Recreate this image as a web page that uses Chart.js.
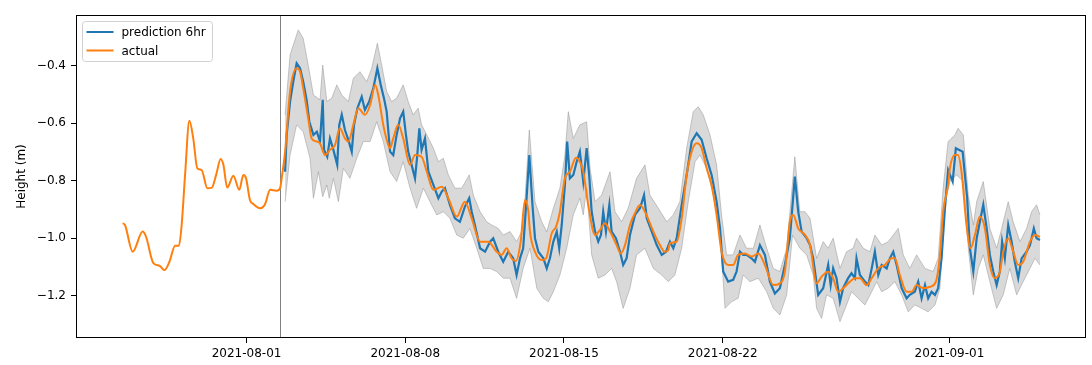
<!DOCTYPE html>
<html>
<head>
<meta charset="utf-8">
<script src="https://cdn.jsdelivr.net/npm/chart.js@4.4.0/dist/chart.umd.min.js"></script>
<style>
  body { margin: 0; background: #fff; }
  canvas { display: block; }
</style>
</head>
<body>
<canvas id="chart" width="1092" height="365"></canvas>
<script>
// x values are days since 2021-08-01 00:00
const actualDays = [
  -5.46, -5.36, -5.02, -4.58, -4.43, -4.11, -3.84, -3.62, -3.40, -3.15,
  -2.98, -2.86, -2.71, -2.52, -2.35, -2.17, -1.98, -1.73, -1.53, -1.34,
  -1.14, -1.02, -0.85, -0.58, -0.32, -0.14, -0.02, 0.15, 0.30, 0.60,
  0.82, 1.04, 1.33, 1.48, 1.55, 1.70, 1.92, 2.21, 2.36, 2.50,
  2.72, 2.87, 3.10, 3.24, 3.46, 3.68, 3.90, 4.12, 4.34, 4.49,
  4.71, 4.93, 5.22, 5.45, 5.67, 5.81, 6.03, 6.25, 6.33, 6.47,
  6.69, 6.91, 7.21, 7.43, 7.72, 7.95, 8.24, 8.61, 8.90, 9.27,
  9.63, 9.93, 10.30, 10.66, 11.03, 11.25, 11.47, 11.69, 11.88, 12.09,
  12.28, 12.43, 12.50, 12.72, 13.02, 13.21, 13.46, 13.65, 13.82, 14.04,
  14.26, 14.53, 14.70, 14.85, 15.07, 15.37, 15.59, 15.81, 16.03, 16.32,
  16.50, 16.69, 16.91, 17.13, 17.35, 17.57, 17.94, 18.23, 18.45, 18.60,
  18.67, 18.97, 19.19, 19.41, 19.63, 19.85, 20.07, 20.29, 20.51, 20.73,
  20.95, 21.24, 21.46, 21.68, 21.98, 22.28, 22.57, 22.86, 23.23, 23.52,
  23.74, 23.96, 24.11, 24.33, 24.63, 24.85, 25.14, 25.36, 25.65, 25.87,
  26.09, 26.31, 26.61, 26.83, 27.05, 27.35, 27.57, 27.86, 28.15, 28.45,
  28.59, 28.81, 29.11, 29.33, 29.55, 29.84, 30.14, 30.40, 30.58, 30.72,
  30.94, 31.02, 31.24, 31.37, 31.53, 31.75, 31.93, 32.12, 32.34, 32.56,
  32.78, 33.00, 33.22, 33.37, 33.59, 33.81, 34.03, 34.25, 34.55, 34.77, 34.99
];
const actualHeight = [
  -0.948, -0.954, -1.047, -0.977, -0.995, -1.087, -1.096, -1.111, -1.082, -1.026,
  -1.026, -0.954, -0.780, -0.592, -0.653, -0.757, -0.763, -0.826, -0.824, -0.780,
  -0.725, -0.745, -0.824, -0.783, -0.832, -0.780, -0.792, -0.867, -0.881, -0.896,
  -0.881, -0.832, -0.835, -0.826, -0.792, -0.699, -0.490, -0.409, -0.421, -0.479,
  -0.583, -0.653, -0.664, -0.670, -0.711, -0.693, -0.676, -0.618, -0.653, -0.664,
  -0.606, -0.548, -0.571, -0.537, -0.467, -0.502, -0.606, -0.676, -0.687, -0.653,
  -0.606, -0.653, -0.745, -0.711, -0.717, -0.769, -0.832, -0.821, -0.861, -0.925,
  -0.873, -0.931, -1.012, -1.012, -1.047, -1.058, -1.035, -1.070, -1.079, -1.012,
  -0.867, -0.908, -0.977, -1.047, -1.076, -1.070, -0.983, -0.960, -0.908, -0.792,
  -0.769, -0.720, -0.734, -0.769, -0.885, -0.989, -0.971, -0.948, -0.977, -1.024,
  -1.053, -1.024, -0.954, -0.913, -0.885, -0.908, -0.977, -1.024, -1.047, -1.041,
  -1.018, -1.012, -0.931, -0.780, -0.699, -0.670, -0.687, -0.757, -0.815, -0.919,
  -1.047, -1.093, -1.093, -1.058, -1.053, -1.064, -1.053, -1.093, -1.163, -1.157,
  -1.117, -0.943, -0.919, -0.966, -0.989, -1.024, -1.157, -1.134, -1.117, -1.139,
  -1.186, -1.174, -1.151, -1.139, -1.139, -1.163, -1.139, -1.105, -1.093, -1.070,
  -1.070, -1.128, -1.186, -1.186, -1.163, -1.174, -1.169, -1.151, -1.058, -0.908,
  -0.815, -0.756, -0.711, -0.711, -0.769, -0.954, -1.035, -0.989, -0.925, -0.966,
  -1.093, -1.139, -1.117, -1.047, -1.000, -1.047, -1.093, -1.082, -1.012, -0.989, -0.995
];

const predDays = [
  1.70, 1.77, 1.92, 2.06, 2.21, 2.36, 2.50, 2.65, 2.77, 2.95,
  3.10, 3.24, 3.36, 3.42, 3.56, 3.68, 3.83, 4.00, 4.09, 4.20,
  4.34, 4.49, 4.64, 4.74, 4.89, 5.08, 5.22, 5.41, 5.59, 5.77,
  5.92, 6.06, 6.18, 6.33, 6.47, 6.62, 6.77, 6.91, 7.03, 7.13,
  7.28, 7.43, 7.53, 7.62, 7.72, 7.87, 8.02, 8.24, 8.46, 8.61,
  8.75, 8.97, 9.19, 9.41, 9.63, 9.82, 9.93, 10.07, 10.30, 10.52,
  10.74, 10.88, 11.10, 11.32, 11.54, 11.76, 11.91, 12.06, 12.20, 12.35,
  12.47, 12.62, 12.72, 12.87, 13.09, 13.24, 13.38, 13.53, 13.68, 13.79,
  13.90, 14.04, 14.14, 14.26, 14.41, 14.56, 14.70, 14.85, 15.00, 15.11,
  15.22, 15.37, 15.51, 15.63, 15.73, 15.85, 16.00, 16.10, 16.29, 16.47,
  16.61, 16.76, 16.91, 17.13, 17.35, 17.53, 17.65, 17.87, 18.09, 18.31,
  18.50, 18.67, 18.82, 18.97, 19.19, 19.41, 19.63, 19.85, 20.07, 20.29,
  20.51, 20.73, 20.88, 21.02, 21.24, 21.46, 21.61, 21.76, 21.90, 22.05,
  22.27, 22.42, 22.64, 22.86, 23.08, 23.30, 23.52, 23.74, 23.96, 24.18,
  24.33, 24.48, 24.70, 24.85, 24.99, 25.21, 25.43, 25.65, 25.76, 25.87,
  26.02, 26.17, 26.31, 26.53, 26.68, 26.83, 26.90, 27.05, 27.27, 27.42,
  27.57, 27.71, 27.86, 28.01, 28.23, 28.37, 28.52, 28.67, 28.89, 29.11,
  29.25, 29.47, 29.62, 29.77, 29.92, 30.06, 30.21, 30.36, 30.50, 30.65,
  30.80, 30.94, 31.14, 31.28, 31.43, 31.58, 31.68, 31.78, 31.90, 32.05,
  32.20, 32.34, 32.49, 32.64, 32.78, 32.93, 33.08, 33.22, 33.32, 33.44,
  33.59, 33.74, 33.88, 34.03, 34.18, 34.40, 34.55, 34.72, 34.84, 34.99
];
const predHeight = [
  -0.769, -0.641, -0.525, -0.456, -0.392, -0.409, -0.456, -0.519, -0.595, -0.641,
  -0.630, -0.664, -0.519, -0.693, -0.717, -0.653, -0.693, -0.745, -0.606, -0.571,
  -0.624, -0.658, -0.699, -0.606, -0.548, -0.508, -0.554, -0.525, -0.479, -0.409,
  -0.467, -0.513, -0.560, -0.699, -0.711, -0.641, -0.583, -0.560, -0.641, -0.699,
  -0.745, -0.792, -0.711, -0.618, -0.693, -0.653, -0.769, -0.815, -0.861, -0.838,
  -0.826, -0.884, -0.931, -0.943, -0.890, -0.861, -0.908, -0.954, -1.035, -1.047,
  -1.012, -1.000, -1.047, -1.082, -1.047, -1.070, -1.128, -1.070, -1.035, -0.861,
  -0.711, -0.896, -1.000, -1.047, -1.070, -1.105, -1.070, -1.012, -0.977, -1.035,
  -0.954, -0.815, -0.664, -0.792, -0.780, -0.734, -0.699, -0.803, -0.687, -0.780,
  -0.908, -0.977, -1.012, -0.989, -0.908, -0.977, -0.884, -0.977, -1.000, -1.047,
  -1.093, -1.070, -0.989, -0.919, -0.896, -0.850, -0.931, -0.977, -1.024, -1.058,
  -1.047, -1.012, -1.035, -1.000, -0.884, -0.780, -0.664, -0.635, -0.658, -0.722,
  -0.780, -0.873, -0.966, -1.116, -1.151, -1.145, -1.116, -1.047, -1.058, -1.058,
  -1.070, -1.082, -1.024, -1.058, -1.151, -1.192, -1.174, -1.093, -1.000, -0.786,
  -0.908, -0.977, -1.000, -1.024, -1.070, -1.197, -1.174, -1.093, -1.163, -1.105,
  -1.139, -1.221, -1.174, -1.139, -1.122, -1.139, -1.070, -1.128, -1.151, -1.163,
  -1.105, -1.047, -1.128, -1.093, -1.105, -1.070, -1.047, -1.093, -1.174, -1.209,
  -1.197, -1.186, -1.151, -1.209, -1.163, -1.209, -1.186, -1.197, -1.174, -1.070,
  -0.896, -0.763, -0.803, -0.687, -0.693, -0.699, -0.780, -0.861, -1.035, -1.116,
  -1.000, -0.943, -0.884, -0.966, -1.058, -1.116, -1.163, -1.116, -1.012, -1.070,
  -0.954, -1.012, -1.082, -1.139, -1.070, -1.047, -1.024, -0.966, -1.000, -1.006
];

// prediction interval edges
const upperDays = [
  1.70, 1.92, 2.28, 2.50, 2.72, 2.95, 3.24, 3.36, 3.54, 3.76,
  3.98, 4.20, 4.49, 4.71, 5.00, 5.30, 5.52, 5.77, 5.96, 6.18,
  6.40, 6.62, 6.91, 7.13, 7.35, 7.57, 7.72, 7.95, 8.24, 8.46,
  8.68, 8.90, 9.19, 9.49, 9.82, 10.00, 10.30, 10.59, 10.81, 11.10,
  11.32, 11.62, 11.91, 12.20, 12.47, 12.72, 13.02, 13.24, 13.53, 13.82,
  14.04, 14.19, 14.41, 14.70, 15.00, 15.15, 15.37, 15.66, 16.03, 16.25,
  16.54, 16.83, 17.20, 17.57, 17.79, 18.16, 18.53, 18.82, 19.11, 19.41,
  19.70, 19.92, 20.14, 20.44, 20.73, 20.95, 21.17, 21.46, 21.76, 22.05,
  22.35, 22.64, 22.94, 23.23, 23.52, 23.82, 24.18, 24.40, 24.63, 24.85,
  25.14, 25.43, 25.65, 25.87, 26.17, 26.46, 26.75, 26.90, 27.20, 27.49,
  27.71, 28.01, 28.30, 28.52, 28.74, 28.96, 29.25, 29.55, 29.92, 30.28,
  30.50, 30.72, 30.94, 31.24, 31.38, 31.61, 31.83, 32.05, 32.20, 32.49,
  32.78, 33.08, 33.30, 33.59, 33.81, 34.11, 34.40, 34.62, 34.84, 34.99
];
const upperHeight = [
  -0.572, -0.363, -0.276, -0.305, -0.398, -0.502, -0.519, -0.398, -0.525, -0.513,
  -0.467, -0.502, -0.525, -0.444, -0.421, -0.456, -0.409, -0.322, -0.398, -0.490,
  -0.525, -0.513, -0.467, -0.525, -0.571, -0.548, -0.606, -0.641, -0.687, -0.734,
  -0.722, -0.780, -0.826, -0.826, -0.780, -0.850, -0.908, -0.943, -0.954, -0.966,
  -0.989, -0.977, -1.012, -0.966, -0.624, -0.873, -0.943, -0.978, -0.896, -0.826,
  -0.711, -0.560, -0.653, -0.606, -0.595, -0.757, -0.873, -0.850, -0.769, -0.908,
  -0.943, -0.896, -0.792, -0.745, -0.850, -0.896, -0.943, -0.919, -0.873, -0.687,
  -0.560, -0.543, -0.571, -0.641, -0.745, -0.919, -1.058, -1.058, -0.989, -1.035,
  -1.035, -0.954, -1.035, -1.105, -1.116, -1.035, -0.717, -0.908, -0.908, -0.931,
  -1.070, -1.012, -1.035, -1.000, -1.105, -1.047, -1.035, -1.000, -1.035, -1.047,
  -0.989, -1.024, -1.012, -0.989, -0.966, -1.058, -1.105, -1.058, -1.105, -1.116,
  -1.070, -0.826, -0.664, -0.641, -0.618, -0.641, -0.850, -0.954, -0.873, -0.803,
  -0.966, -1.035, -0.966, -0.873, -0.943, -1.012, -0.966, -0.908, -0.884, -0.919
];
const lowerDays = [
  1.70, 1.92, 2.21, 2.50, 2.80, 2.95, 3.17, 3.36, 3.54, 3.65,
  3.83, 4.05, 4.27, 4.56, 4.86, 5.15, 5.45, 5.74, 6.03, 6.33,
  6.62, 6.91, 7.21, 7.50, 7.80, 8.09, 8.39, 8.68, 8.97, 9.27,
  9.56, 9.85, 10.15, 10.44, 10.74, 11.03, 11.32, 11.62, 11.91, 12.20,
  12.50, 12.80, 13.09, 13.31, 13.53, 13.82, 14.12, 14.41, 14.70, 14.85,
  15.00, 15.22, 15.51, 15.81, 16.10, 16.32, 16.61, 16.91, 17.20, 17.57,
  17.94, 18.31, 18.60, 18.89, 19.19, 19.48, 19.78, 20.00, 20.29, 20.58,
  20.88, 21.10, 21.39, 21.68, 21.90, 22.20, 22.57, 22.94, 23.23, 23.52,
  23.82, 24.08, 24.40, 24.70, 24.99, 25.14, 25.36, 25.58, 25.87, 26.17,
  26.46, 26.68, 26.97, 27.27, 27.57, 27.79, 28.01, 28.30, 28.59, 28.89,
  29.18, 29.47, 29.77, 30.06, 30.36, 30.58, 30.80, 31.02, 31.31, 31.61,
  31.83, 32.05, 32.27, 32.49, 32.78, 33.08, 33.37, 33.66, 33.96, 34.25,
  34.55, 34.77, 34.99
];
const lowerHeight = [
  -0.873, -0.711, -0.606, -0.630, -0.722, -0.861, -0.769, -0.856, -0.815, -0.861,
  -0.792, -0.873, -0.757, -0.792, -0.722, -0.664, -0.664, -0.595, -0.664, -0.769,
  -0.803, -0.734, -0.826, -0.896, -0.826, -0.873, -0.919, -0.908, -0.931, -0.989,
  -1.000, -0.966, -1.035, -1.105, -1.105, -1.116, -1.139, -1.139, -1.209, -1.105,
  -1.035, -1.174, -1.209, -1.221, -1.186, -1.128, -1.035, -0.919, -0.861, -0.919,
  -0.826, -1.058, -1.139, -1.128, -1.105, -1.151, -1.244, -1.174, -1.058, -1.035,
  -1.105, -1.128, -1.151, -1.128, -1.035, -0.873, -0.734, -0.711, -0.757, -0.850,
  -0.977, -1.244, -1.221, -1.209, -1.128, -1.151, -1.139, -1.186, -1.244, -1.267,
  -1.197, -0.989, -1.035, -1.058, -1.128, -1.244, -1.279, -1.197, -1.209, -1.290,
  -1.232, -1.186, -1.209, -1.232, -1.186, -1.151, -1.186, -1.174, -1.151, -1.197,
  -1.256, -1.232, -1.244, -1.256, -1.232, -1.174, -0.873, -0.803, -0.780, -0.803,
  -1.035, -1.197, -1.105, -1.058, -1.151, -1.244, -1.197, -1.105, -1.197, -1.151,
  -1.105, -1.070, -1.093
];

const splitDay = 1.5; // forecast start marker
const xTickDays = [0, 7, 14, 21, 31];
const xTickLabels = ['2021-08-01', '2021-08-08', '2021-08-15', '2021-08-22', '2021-09-01'];
const yTicks = [-1.2, -1.0, -0.8, -0.6, -0.4];
const seriesNames = ['prediction 6hr', 'actual'];
const seriesColors = ['#1f77b4', '#ff7f0e'];

const FONT = 'DejaVu Sans';

function toPoints(days, values) {
  return days.map((d, i) => ({ x: d, y: values[i] }));
}

// frame, forecast marker and matplotlib-like legend
const decorations = {
  id: 'decorations',
  beforeDatasetsDraw(chart) {
    const { ctx, chartArea } = chart;
    const x = Math.round(chart.scales.x.getPixelForValue(splitDay)) - 0.5;
    ctx.save();
    ctx.strokeStyle = '#808080';
    ctx.lineWidth = 1;
    ctx.beginPath();
    ctx.moveTo(x, chartArea.top);
    ctx.lineTo(x, chartArea.bottom);
    ctx.stroke();
    ctx.restore();
  },
  afterDraw(chart) {
    const { ctx, chartArea } = chart;
    ctx.save();
    ctx.strokeStyle = '#000';
    ctx.lineWidth = 1;
    ctx.strokeRect(chartArea.left + 0.5, chartArea.top + 0.5,
      chartArea.right - chartArea.left - 1, chartArea.bottom - chartArea.top - 1);

    // legend box
    const bx = chartArea.left + 6.5, by = chartArea.top + 6.5, bw = 130, bh = 40;
    ctx.beginPath();
    ctx.roundRect(bx, by, bw, bh, 3);
    ctx.fillStyle = 'rgba(255,255,255,0.8)';
    ctx.fill();
    ctx.strokeStyle = '#d0d0d0';
    ctx.stroke();

    ctx.font = '12px "' + FONT + '"';
    ctx.textBaseline = 'middle';
    ctx.textAlign = 'left';
    seriesNames.forEach((name, i) => {
      const y = by + 10.5 + i * 18.5;
      ctx.strokeStyle = seriesColors[i];
      ctx.lineWidth = 2;
      ctx.beginPath();
      ctx.moveTo(bx + 4, y);
      ctx.lineTo(bx + 31, y);
      ctx.stroke();
      ctx.fillStyle = '#000';
      ctx.fillText(name, bx + 39, y + 1);
    });
    ctx.restore();
  }
};

new Chart(document.getElementById('chart'), {
  type: 'line',
  data: {
    datasets: [
      {
        label: 'upper',
        data: toPoints(upperDays, upperHeight),
        borderColor: 'rgba(140,140,140,0.45)',
        borderWidth: 1,
        pointRadius: 0,
        fill: false,
        order: 3
      },
      {
        label: 'lower',
        data: toPoints(lowerDays, lowerHeight),
        borderColor: 'rgba(140,140,140,0.45)',
        borderWidth: 1,
        backgroundColor: 'rgba(128,128,128,0.3)',
        pointRadius: 0,
        fill: '-1',
        order: 2
      },
      {
        label: seriesNames[0],
        data: toPoints(predDays, predHeight),
        borderColor: seriesColors[0],
        borderWidth: 2.2,
        pointRadius: 0,
        tension: 0,
        order: 1
      },
      {
        label: seriesNames[1],
        data: toPoints(actualDays, actualHeight),
        borderColor: seriesColors[1],
        borderWidth: 2,
        pointRadius: 0,
        cubicInterpolationMode: 'monotone',
        order: 0
      }
    ]
  },
  options: {
    responsive: false,
    animation: false,
    events: [],
    layout: { padding: { left: 0, top: 15, right: 6, bottom: 0 } },
    plugins: {
      legend: { display: false },
      tooltip: { enabled: false }
    },
    scales: {
      x: {
        type: 'linear',
        min: -7.52,
        max: 37.02,
        afterBuildTicks: s => { s.ticks = xTickDays.map(v => ({ value: v })); },
        afterFit: s => { s.height = 27; },
        ticks: {
          callback: v => xTickLabels[xTickDays.indexOf(v)],
          color: '#000',
          font: { family: FONT, size: 12 },
          padding: 4,
          maxRotation: 0,
          autoSkip: false
        },
        grid: { drawOnChartArea: false, tickLength: 5, tickColor: '#000' },
        border: { display: false }
      },
      y: {
        min: -1.347,
        max: -0.224,
        afterBuildTicks: s => { s.ticks = yTicks.map(v => ({ value: v })); },
        afterFit: s => { s.width = 76; },
        ticks: {
          callback: v => v.toFixed(1).replace('-', '\u2212'),
          color: '#000',
          font: { family: FONT, size: 12 },
          padding: 5
        },
        grid: { drawOnChartArea: false, tickLength: 5, tickColor: '#000' },
        border: { display: false },
        title: {
          display: true,
          text: 'Height (m)',
          color: '#000',
          font: { family: FONT, size: 12 },
          padding: { top: 15, bottom: 0 }
        }
      }
    }
  },
  plugins: [decorations]
});
</script>
</body>
</html>
